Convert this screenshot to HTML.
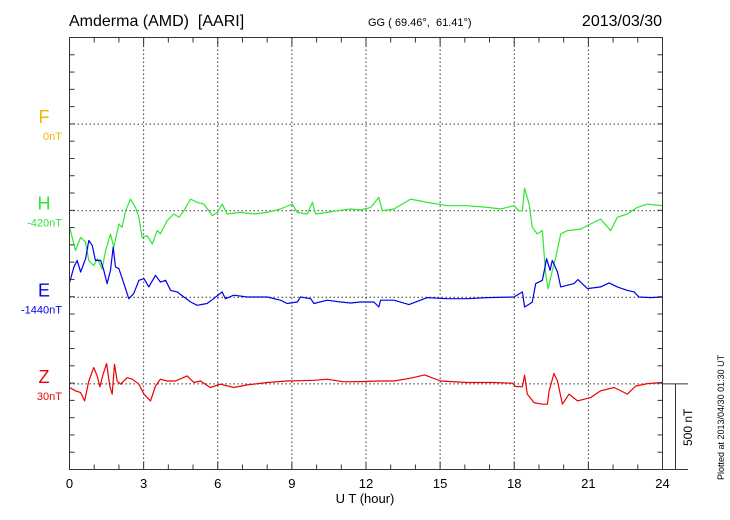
<!DOCTYPE html>
<html><head><meta charset="utf-8"><style>
html,body{margin:0;padding:0;background:#fff}
svg{display:block;font-family:"Liberation Sans",sans-serif}
</style></head><body>
<svg id="chart" width="730" height="520" viewBox="0 0 730 520">
<text x="69" y="26" font-size="16">Amderma (AMD)&#160; [AARI]</text>
<text x="368" y="26" font-size="11">GG ( 69.46°,&#160; 61.41°)</text>
<text x="662" y="26" font-size="16" text-anchor="end">2013/03/30</text>
<g id="grid"></g>
<g id="series"></g>
<g id="axes"></g>
<text x="365" y="503" font-size="13" text-anchor="middle">U T (hour)</text>
<text transform="translate(724,480) rotate(-90)" font-size="9">Plotted at 2013/04/30 01:30 UT</text>
<text transform="translate(692,446) rotate(-90)" font-size="12">500 nT</text>
</svg>
<script>
const xTickLabels=["0","3","6","9","12","15","18","21","24"];
const chLabels=["F","H","E","Z"];
const chBase=["0nT","-420nT","-1440nT","30nT"];
const chColors=["#f5b400","#2ee82e","#0000ee","#ee0000"];
const hT=[0.01,0.24,0.45,0.65,0.78,0.98,1.12,1.32,1.46,1.66,1.79,2.0,2.13,2.27,2.47,2.67,2.81,2.94,3.14,3.35,3.55,3.68,3.95,4.22,4.43,4.63,4.9,5.17,5.44,5.78,5.98,6.18,6.38,6.92,7.46,8.0,8.54,9.02,9.22,9.62,9.83,9.96,10.43,10.84,11.38,11.78,12.19,12.52,12.66,13.13,13.81,14.48,15.29,16.1,16.91,17.45,17.99,18.19,18.33,18.42,18.6,18.73,18.93,19.14,19.27,19.37,19.54,19.68,19.88,20.15,20.69,21.09,21.5,21.9,22.17,22.58,22.98,23.39,24.0];
const hV=[-96,-230,-154,-182,-288,-317,-278,-336,-230,-134,-211,-77,-96,0,67,19,-38,-154,-144,-192,-115,-134,-58,-19,-38,0,67,48,38,-29,-10,38,-19,-10,-19,-10,10,38,-10,-19,48,-19,-10,0,10,4,19,77,0,10,67,48,29,29,19,10,29,0,0,130,38,-96,-134,-115,-365,-451,-346,-269,-134,-115,-106,-77,-48,-115,-38,-19,19,38,29];
const eT=[0.01,0.18,0.31,0.45,0.65,0.78,0.92,1.05,1.26,1.39,1.52,1.66,1.77,1.86,2.0,2.2,2.4,2.6,2.81,3.01,3.21,3.48,3.68,3.89,4.09,4.36,4.63,4.9,5.17,5.57,5.83,6.18,6.31,6.65,7.19,8.0,8.54,8.81,9.22,9.35,9.76,9.89,10.43,10.97,11.38,11.78,12.32,12.52,12.59,13.13,13.74,14.48,15.29,16.1,16.91,17.99,18.33,18.42,18.6,18.73,18.87,19.14,19.31,19.45,19.54,19.75,19.88,20.42,20.58,20.96,21.5,21.84,22.17,22.58,22.85,23.05,23.52,24.0];
const eV=[88,175,213,146,223,328,300,213,213,156,79,156,290,175,165,79,-8,21,98,108,60,127,88,98,40,31,2,-27,-46,-36,-8,31,-8,12,2,2,-17,-36,-27,2,-8,-36,-17,-27,-33,-27,-27,-56,-17,-17,-42,-2,-8,-8,-2,2,31,-56,-40,-27,79,98,223,156,213,146,60,79,102,50,60,83,60,40,31,2,-2,2];
const zT=[0.01,0.24,0.45,0.61,0.78,0.98,1.12,1.23,1.36,1.5,1.63,1.73,1.82,1.93,2.07,2.33,2.54,2.81,3.01,3.28,3.48,3.68,3.95,4.29,4.76,5.03,5.3,5.7,6.11,6.65,7.19,8.0,8.81,9.89,10.43,11.1,11.78,12.52,13.13,13.81,14.37,15.02,16.1,17.18,17.92,18.06,18.33,18.42,18.53,18.8,19.14,19.34,19.41,19.61,19.75,19.95,20.22,20.56,21.09,21.5,22.04,22.58,22.92,23.39,24.0];
const zV=[-21,-40,-50,-98,17,94,46,-17,56,117,-12,-59,113,17,-2,36,27,-2,-59,-98,-12,27,17,17,46,8,17,-21,-2,-21,-6,8,17,21,27,12,13,17,17,33,52,17,8,8,4,-15,-17,50,-59,-108,-117,-117,-40,60,17,-117,-59,-98,-79,-40,-21,-59,-12,2,8];

const NS="http://www.w3.org/2000/svg";
const L=69.5,R=662.5,T=37.5,B=469.5;
const pxPerNT=86.6/500;
const baseY=[124.1,210.7,297.3,383.9];
function xs(h){return L+(R-L)*h/24;}
function ys(ch,v){return baseY[ch]-v*pxPerNT;}
function mk(tag,parent){const e=document.createElementNS(NS,tag);document.getElementById(parent).appendChild(e);return e;}

for(let i=1;i<8;i++){
  const g=mk('line','grid');
  
  
  g.setAttribute('x1',xs(i*3));g.setAttribute('x2',xs(i*3));g.setAttribute('y1',T);g.setAttribute('y2',B);
  g.setAttribute('stroke','#333');g.setAttribute('stroke-dasharray','1.5,2.5');g.setAttribute('stroke-width','1');
}
for(let c=0;c<4;c++){
  const g=mk('line','grid');
  
  
  g.setAttribute('x1',L);g.setAttribute('x2',R);g.setAttribute('y1',baseY[c]);g.setAttribute('y2',baseY[c]);
  g.setAttribute('stroke','#333');g.setAttribute('stroke-dasharray','1.5,2.5');
}
const sers=[[hT,hV,1],[eT,eV,2],[zT,zV,3]];
sers.forEach(s=>{
  const p=mk('polyline','series');
  
  
  p.setAttribute('points',s[0].map((t,i)=>xs(t).toFixed(1)+','+ys(s[2],s[1][i]).toFixed(1)).join(' '));
  p.setAttribute('fill','none');p.setAttribute('stroke',chColors[s[2]]);p.setAttribute('stroke-width','1.2');p.setAttribute('stroke-linejoin','round');
});
const fr=mk('rect','axes');


fr.setAttribute('x',L);fr.setAttribute('y',T);fr.setAttribute('width',R-L);fr.setAttribute('height',B-T);
fr.setAttribute('fill','none');fr.setAttribute('stroke','#333');
for(let h=0;h<=24;h++){
  const len=(h%3===0)?8:5;
  [[B,B-len],[T,T+len]].forEach(yy=>{
    const t=mk('line','axes');
    
    
    t.setAttribute('x1',xs(h));t.setAttribute('x2',xs(h));t.setAttribute('y1',yy[0]);t.setAttribute('y2',yy[1]);t.setAttribute('stroke','#333');
  });
}
xTickLabels.forEach((s,i)=>{
  const t=mk('text','axes');
  
  
  t.setAttribute('x',xs(i*3));t.setAttribute('y',488);t.setAttribute('font-size','13');t.setAttribute('text-anchor','middle');
  t.textContent=s;
});
for(let k=1;k<25;k++){
  const y=T+k*(B-T)/25;
  [[L,L+5],[R,R-5]].forEach(xx=>{
    const t=mk('line','axes');
    
    
    t.setAttribute('x1',xx[0]);t.setAttribute('x2',xx[1]);t.setAttribute('y1',y);t.setAttribute('y2',y);t.setAttribute('stroke','#333');
  });
}
for(let c=0;c<4;c++){
  const a=mk('text','axes');
  
  
  a.setAttribute('x',44);a.setAttribute('y',baseY[c]-1);a.setAttribute('font-size','18');a.setAttribute('text-anchor','middle');a.setAttribute('fill',chColors[c]);
  a.textContent=chLabels[c];
  const b=mk('text','axes');
  
  
  b.setAttribute('x',62);b.setAttribute('y',baseY[c]+16);b.setAttribute('font-size','11');b.setAttribute('text-anchor','end');b.setAttribute('fill',chColors[c]);
  b.textContent=chBase[c];
}
const sb=mk('path','axes');


sb.setAttribute('d','M'+R+','+baseY[3]+'H688M675.5,'+baseY[3]+'V'+B+'M'+R+','+B+'H688');
sb.setAttribute('stroke','#333');sb.setAttribute('fill','none');
</script>
</body></html>
